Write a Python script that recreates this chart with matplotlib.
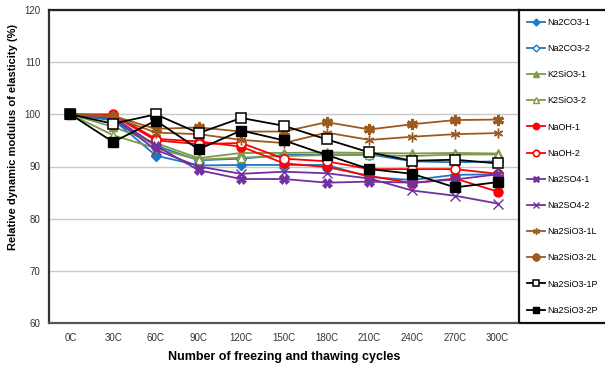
import matplotlib
matplotlib.use("Agg")
import matplotlib.pyplot as plt
from matplotlib.patches import Rectangle

plt.rcParams["font.family"] = ["Liberation Sans", "DejaVu Sans"]

cycles = ["0C", "30C", "60C", "90C", "120C", "150C", "180C", "210C", "240C", "270C", "300C"]

na2co3_1 = [100, 99.0, 92.1, 90.2, 90.3, 90.3, 90.3, 88.0, 87.4, 88.4, 88.5]
na2co3_2 = [100, 98.8, 94.0, 91.2, 91.5, 92.2, 92.3, 92.3, 91.0, 90.8, 91.0]
k2sio3_1 = [100, 97.6, 94.5, 91.6, 92.6, 92.6, 92.7, 92.6, 92.5, 92.6, 92.5]
k2sio3_2 = [100, 96.0, 93.5, 91.3, 91.7, 92.0, 92.2, 92.2, 92.0, 92.3, 92.3]
naoh_1 = [100, 100.0, 95.3, 94.8, 93.8, 90.6, 89.9, 88.2, 86.8, 87.7, 85.2]
naoh_2 = [100, 99.8, 95.0, 94.3, 94.5, 91.5, 91.0, 89.5, 89.5, 89.5, 88.6]
na2so4_1 = [100, 99.5, 94.0, 89.3, 87.6, 87.6, 86.9, 87.1, 86.9, 87.5, 88.5]
na2so4_2 = [100, 99.3, 93.2, 90.0, 88.6, 89.0, 88.7, 87.7, 85.4, 84.4, 82.9]
na2sio3_1l = [100, 99.5, 96.5, 96.2, 95.1, 94.5, 96.5, 95.1, 95.7, 96.2, 96.4]
na2sio3_2l = [100, 99.7, 97.2, 97.5, 96.7, 96.7, 98.5, 97.1, 98.1, 98.9, 99.0]
na2sio3_1p = [100, 98.2, 100.0, 96.4, 99.3, 97.8, 95.2, 92.7, 91.1, 91.3, 90.6]
na2sio3_2p = [100, 94.7, 98.8, 93.3, 96.9, 95.0, 92.2, 89.5, 88.6, 86.0, 87.0]

BLUE = "#1f78c1"
GREEN = "#7f9a48"
RED = "#ff0000"
PURPLE = "#7030a0"
BROWN = "#9c5a1e"
BLACK = "#000000"

# label, values, colour, marker, filled, marker size, marker edge width
series = [
    ("Na2CO3-1", na2co3_1, BLUE, "D", True, 5, 1.0),
    ("Na2CO3-2", na2co3_2, BLUE, "D", False, 5, 1.0),
    ("K2SiO3-1", k2sio3_1, GREEN, "^", True, 6, 1.0),
    ("K2SiO3-2", k2sio3_2, GREEN, "^", False, 6, 1.0),
    ("NaOH-1", naoh_1, RED, "o", True, 6.5, 1.0),
    ("NaOH-2", naoh_2, RED, "o", False, 6.5, 1.2),
    ("Na2SO4-1", na2so4_1, PURPLE, "X", True, 7, 0.5),
    ("Na2SO4-2", na2so4_2, PURPLE, "x", False, 6.5, 1.0),
    ("Na2SiO3-1L", na2sio3_1l, BROWN, (6, 2, 0), False, 7, 1.0),
    ("Na2SiO3-2L", na2sio3_2l, BROWN, (6, 2, 0), True, 8, 2.2),
    ("Na2SiO3-1P", na2sio3_1p, BLACK, "s", False, 6.5, 1.1),
    ("Na2SiO3-2P", na2sio3_2p, BLACK, "s", True, 6.5, 1.0),
]

fig = plt.figure(figsize=(6.05, 3.65), dpi=100)
ax = fig.add_axes([49 / 605, 1 - 323 / 365, 470 / 605, 313 / 365])

x = list(range(len(cycles)))
handles = []
for label, vals, color, marker, filled, ms, mew in series:
    (h,) = ax.plot(
        x, vals, color=color, lw=1.3, marker=marker, markersize=ms,
        markerfacecolor=color if filled else "white",
        markeredgecolor=color, markeredgewidth=mew, label=label,
    )
    handles.append(h)

ax.set_xlim(-0.5, len(cycles) - 0.5)
ax.set_ylim(60, 120)
ax.set_yticks(range(60, 121, 10))
ax.set_xticks(x)
ax.set_xticklabels(cycles)
ax.tick_params(axis="both", labelsize=7, colors="#333333", length=0)
ax.tick_params(axis="x", pad=7)
ax.tick_params(axis="y", pad=6)
ax.grid(axis="y", color="#c8c8c8", lw=1)
ax.set_axisbelow(True)

for side in ["left", "bottom", "top"]:
    ax.spines[side].set_linewidth(1.6)
    ax.spines[side].set_color("#222222")
ax.spines["left"].set_color("#333333")
ax.spines["bottom"].set_color("#555555")
ax.spines["right"].set_visible(False)

ax.set_xlabel("Number of freezing and thawing cycles", fontsize=9, fontweight="bold", labelpad=6)
ax.set_ylabel("Relative dynamic modulus of elasticity (%)", fontsize=8, fontweight="bold")
ax.yaxis.set_label_coords(-0.066, 0.595)

# legend box sits right next to the plot area and runs off the figure edge
fig.patches.append(Rectangle((519 / 605, 1 - 323 / 365), 0.3, 313 / 365,
                             transform=fig.transFigure, fill=False,
                             edgecolor="#111111", lw=1.6))
fig.legend(handles=handles, loc="upper left", bbox_to_anchor=(527 / 605, 1 - 18 / 365),
           frameon=False, fontsize=6.5, labelspacing=1.9, handlelength=2.0,
           handletextpad=0.25, borderaxespad=0, borderpad=0, markerscale=0.7)

fig.savefig("out.png", dpi=100)
